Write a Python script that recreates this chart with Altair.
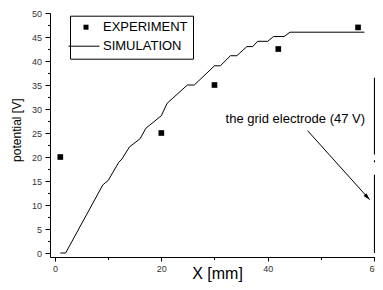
import altair as alt
import pandas as pd

# Experiment points
exp_x = [1, 20, 30, 42, 57]
exp_y = [20, 25, 35, 42.5, 47]

# Simulation curve
sim_x = [1, 2, 9, 10, 12, 12.6, 14, 16, 17.1, 20, 21.1, 24.9, 26.2, 30, 31.1,
         33, 34.2, 36.1, 37.2, 38.1, 40, 41.1, 43.1, 44.2, 58.2]
sim_y = [0, 0, 14.2, 15.1, 18.9, 19.6, 22.1, 23.8, 26, 28.6, 31.2, 35, 35, 39, 39,
         41.1, 41.1, 43, 43, 44.1, 44.1, 45.1, 45.1, 46, 46]

# Grid electrode (vertical line segments at x = 60)
grid_x = [60.1, 60.1, 60.1]
grid_y1 = [36.5, 19.3, 16.3]
grid_y2 = [20.5, 18.9, 0]

# Annotation
note_text = ["the grid electrode (47 V)"]
note_x = [45.2]
note_y = [27.0]
arrow_x1 = [47.5]
arrow_y1 = [25.5]
arrow_x2 = [59.2]
arrow_y2 = [11.1]

# Axis ticks
x_major = [0, 20, 40, 60]
x_minor = [10, 30, 50]
y_major = [0, 5, 10, 15, 20, 25, 30, 35, 40, 45, 50]
y_minor = [2.5, 7.5, 12.5, 17.5, 22.5, 27.5, 32.5, 37.5, 42.5, 47.5]

series = ["EXPERIMENT", "SIMULATION"]

FONT = "Liberation Sans"

exp_df = pd.DataFrame({"x": exp_x, "y": exp_y, "series": series[0]})
sim_df = pd.DataFrame({"x": sim_x, "y": sim_y, "i": list(range(len(sim_x)))})
grid_df = pd.DataFrame({"x": grid_x, "y": grid_y1, "y2": grid_y2})
note_df = pd.DataFrame({"x": note_x, "y": note_y, "t": note_text})
arrow_df = pd.DataFrame({"x": arrow_x1, "y": arrow_y1, "x2": arrow_x2, "y2": arrow_y2})
tip_df = pd.DataFrame({"x": arrow_x2, "y": arrow_y2})

xscale = alt.Scale(domain=[-0.94, 60.19], nice=False, zero=False)
yscale = alt.Scale(domain=[-0.83, 50], nice=False, zero=False)

xaxis = alt.Axis(
    orient="bottom", values=x_major, tickSize=4,
    labelFontSize=9, labelPadding=3.5, labelFlush=False, labelOverlap=False,
    labelColor="#333", labelFont=FONT,
    domainColor="black", tickColor="black", grid=False,
    title="X [mm]", titleFontSize=16, titleFontWeight="normal", titleFont=FONT,
    titleX=167, titleY=21.2, titleBaseline="alphabetic", titleAlign="center",
    titleColor="black",
)
yaxis = alt.Axis(
    orient="left", values=y_major, tickSize=5,
    labelFontSize=9, labelPadding=3.4, labelOverlap=False,
    labelColor="#333", labelFont=FONT,
    domainColor="black", tickColor="black", grid=False,
    title="potential [V]", titleFontSize=12, titleFontWeight="normal", titleFont=FONT,
    titleX=-29.2, titleY=116.7, titleBaseline="alphabetic", titleAlign="center",
    titleAngle=270, titleColor="black",
)
xaxis_minor = alt.Axis(
    orient="bottom", values=x_minor, tickSize=2.5, labels=False, domain=False,
    tickColor="black", grid=False, title=None,
)
yaxis_minor = alt.Axis(
    orient="left", values=y_minor, tickSize=2.5, labels=False, domain=False,
    tickColor="black", grid=False, title=None,
)

line = alt.Chart(sim_df).mark_line(color="black", strokeWidth=1).encode(
    x=alt.X("x:Q", scale=xscale, axis=xaxis),
    y=alt.Y("y:Q", scale=yscale, axis=yaxis),
    order="i:Q",
)

minor = alt.Chart(sim_df).mark_point(opacity=0).encode(
    x=alt.X("x:Q", scale=xscale, axis=xaxis_minor),
    y=alt.Y("y:Q", scale=yscale, axis=yaxis_minor),
)

# legend symbols: a filled square and a thin filled bar standing for the line
SQUARE = "M-1,-1H1V1H-1Z"
LINE = "M-7,-0.2H5.4V0.2H-7Z"

points = alt.Chart(exp_df).mark_point(
    filled=True, size=32, color="black", opacity=1
).encode(
    x=alt.X("x:Q", axis=None),
    y=alt.Y("y:Q", axis=None),
    shape=alt.Shape(
        "series:N",
        scale=alt.Scale(domain=series, range=[SQUARE, LINE]),
        legend=alt.Legend(
            title=None, orient="none", legendX=20, legendY=2.7,
            padding=5, rowPadding=5, symbolSize=25, symbolOffset=4.5,
            labelOffset=10.5, labelFontSize=13, labelFont=FONT, labelColor="black",
            symbolFillColor="black", symbolStrokeWidth=0,
            strokeColor="black", fillColor="white",
        ),
    ),
)

grid = alt.Chart(grid_df).mark_rule(color="black", strokeWidth=1.2).encode(
    x=alt.X("x:Q", axis=None), y=alt.Y("y:Q", axis=None), y2="y2:Q"
)

note = alt.Chart(note_df).mark_text(
    align="center", baseline="alphabetic", fontSize=13, font=FONT, color="black"
).encode(x=alt.X("x:Q", axis=None), y=alt.Y("y:Q", axis=None), text="t:N")

arrow = alt.Chart(arrow_df).mark_rule(color="black", strokeWidth=1).encode(
    x=alt.X("x:Q", axis=None), y=alt.Y("y:Q", axis=None), x2="x2:Q", y2="y2:Q"
)

tip = alt.Chart(tip_df).mark_point(
    shape="M0,0L-0.8,2.8L0.8,2.8Z", size=25, filled=True, color="black", opacity=1, angle=137.6
).encode(x=alt.X("x:Q", axis=None), y=alt.Y("y:Q", axis=None))

chart = alt.layer(minor, line, points, grid, note, arrow, tip).resolve_axis(
    x="independent", y="independent"
).properties(
    width=325, height=244,
    padding={"left": 42, "top": 5, "right": 0, "bottom": 25},
    autosize="none",
).configure(font=FONT).configure_view(stroke=None)

chart.save("out.html", embed_options={"renderer": "svg", "actions": False})
